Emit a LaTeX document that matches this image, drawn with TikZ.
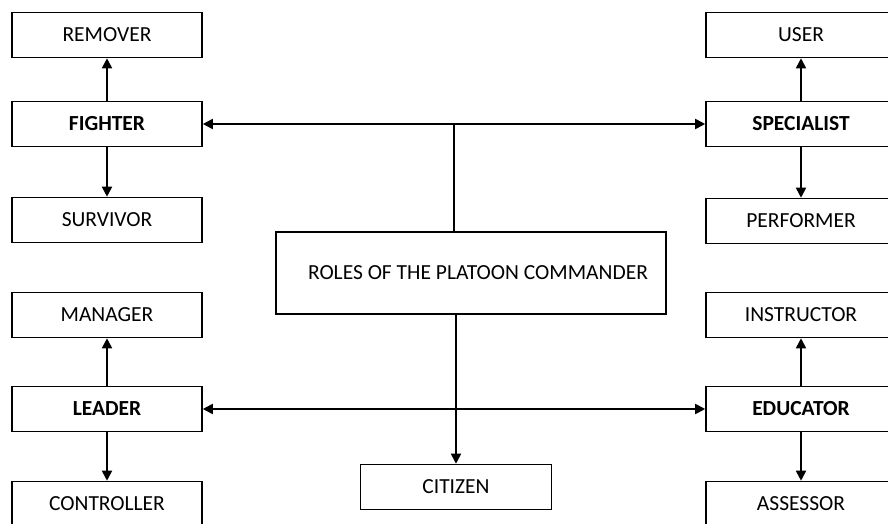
\documentclass[tikz,border=0pt]{standalone}
\usepackage{fontspec}
\setmainfont{Carlito}
\usetikzlibrary{arrows.meta,positioning}

\begin{document}
\begin{tikzpicture}[x=1pt,y=-1pt,
     role node/.style={draw,line width=1.6pt,minimum width=190pt,minimum height=45pt,
       inner sep=0pt,font=\fontsize{21.5}{25}\selectfont},
     main role/.style={role node,font=\fontsize{21.5}{25}\selectfont\bfseries},
     link/.style={line width=1.8pt,-{Triangle[length=10pt,width=10pt]}},
     twoway/.style={link,{Triangle[length=10pt,width=10pt]}-{Triangle[length=10pt,width=10pt]}}]

      \clip (0,0) rectangle (888,524);

      % centre
      \node[role node,minimum width=390pt,minimum height=82pt] (roles) at (471,273)
        {\hspace*{14pt}ROLES OF THE PLATOON COMMANDER};
      \node[role node,minimum width=191pt] (citizen) at (456,487) {CITIZEN};

      % left side
      \node[role node] (remover) at (107,35) {REMOVER};
      \node[main role] (fighter) at (107,124) {FIGHTER};
      \node[role node] (survivor) at (107,220) {SURVIVOR};
      \node[role node] (manager) at (107,315) {MANAGER};
      \node[main role] (leader) at (107,409) {LEADER};
      \node[role node] (controller) at (107,504) {CONTROLLER};

      % right side
      \node[role node] (user) at (801,35) {USER};
      \node[main role] (specialist) at (801,124) {SPECIALIST};
      \node[role node] (performer) at (801,221) {PERFORMER};
      \node[role node] (instructor) at (801,315) {INSTRUCTOR};
      \node[main role] (educator) at (801,409) {EDUCATOR};
      \node[role node] (assessor) at (801,504) {ASSESSOR};

      \foreach \s/\t in {fighter/remover, fighter/survivor, leader/manager, leader/controller,
                         specialist/user, specialist/performer, educator/instructor, educator/assessor} {
       \draw[link] (\s) -- (\t);}

      \draw[twoway] (fighter.east) -- (specialist.west);
      \draw[twoway] (leader.east) -- (educator.west);

      \coordinate (top) at (454,124);
      \draw[line width=1.8pt] (top) -- (top |- roles.north);
      \draw[link] (citizen.north |- roles.south) -- (citizen.north);
    \end{tikzpicture}
\end{document}
